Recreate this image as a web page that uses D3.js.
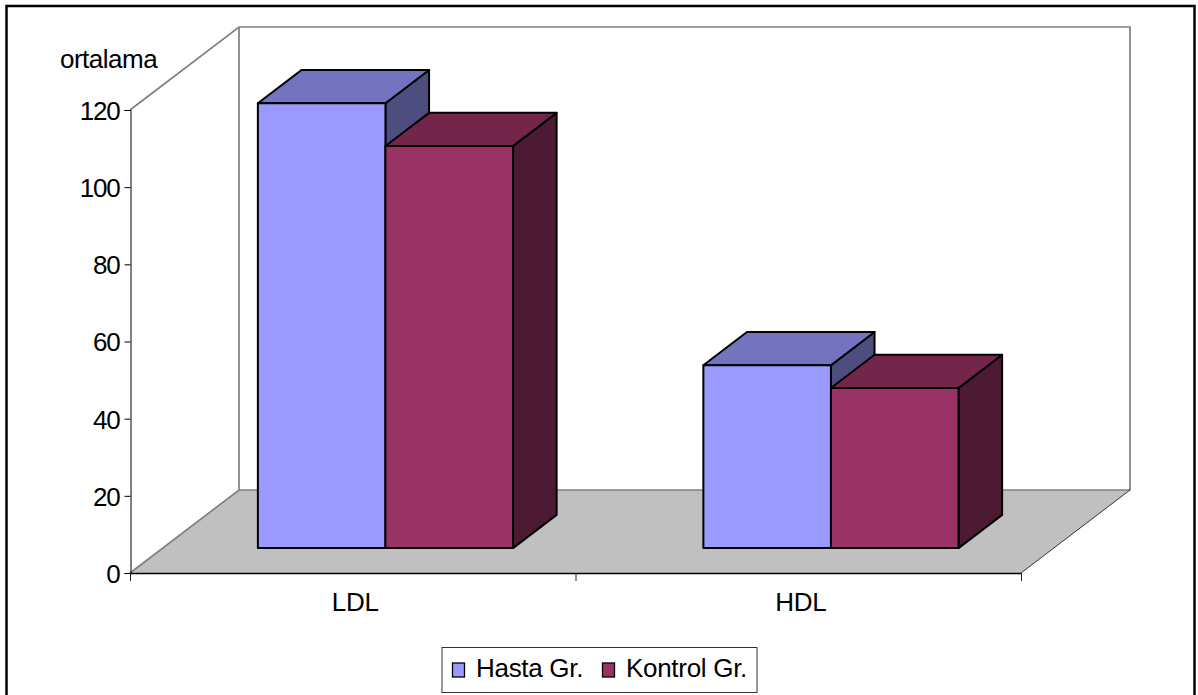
<!DOCTYPE html>
<html>
<head>
<meta charset="utf-8">
<script src="https://cdn.jsdelivr.net/npm/d3@7/dist/d3.min.js"></script>
<style>
  html, body { margin: 0; padding: 0; background: #fff; }
  svg { display: block; }
  text { font-family: "Liberation Sans", Arial, sans-serif; fill: #000; }
</style>
</head>
<body>
<svg id="chart" width="1198" height="695"></svg>
<script>
const categories = ["LDL", "HDL"];
const seriesNames = ["Hasta Gr.", "Kontrol Gr."];
const hastaValues = [115.3, 47.4];
const kontrolValues = [104.2, 41.5];
const yTicks = [0, 20, 40, 60, 80, 100, 120];
const faceFront = ["#9999ff", "#993366"];
const faceTop = ["#7373bf", "#732649"];
const faceSide = ["#4d4d80", "#4d1a33"];

const svg = d3.select("#chart");

// Front plane of the box and its oblique depth offset
const left = 130, right = 1021, base = 573, ceiling = 110;
const depthDx = 109, depthDy = -83;
const fontSize = 26;

const x = d3.scaleBand().domain(categories).range([left, right]);
const xInner = d3.scaleBand().domain(d3.range(seriesNames.length))
  .range([0, x.bandwidth()]).paddingOuter(0.746).paddingInner(0);
const y = d3.scaleLinear().domain([0, 120]).range([base, ceiling]);
const depth = d3.scaleLinear().domain([0, 1]).range([0, 1]);

// Projects a plot coordinate at a given depth (0 front, 1 back) onto the page
const project = (px, py, d) => [px + depthDx * depth(d), py + depthDy * depth(d)];
const poly = pts => "M" + pts.map(p => p.join(",")).join("L") + "Z";

// Outer chart frame, open along the bottom edge of the page
svg.append("path")
  .attr("d", "M6.5,700V6H1194.5V700")
  .attr("fill", "none").attr("stroke", "#000").attr("stroke-width", 2.5);

// Floor
svg.append("path")
  .attr("d", poly([project(left, base, 0), project(right, base, 0), project(right, base, 1), project(left, base, 1)]))
  .attr("fill", "#c0c0c0");

// Walls
const wall = svg.append("g").attr("fill", "none").attr("stroke", "#808080").attr("stroke-width", 1.7);
wall.append("path").attr("d", "M" + [
  project(left, ceiling, 0), project(left, ceiling, 1), project(right, ceiling, 1), project(right, base, 1),
  project(left, base, 1), project(left, base, 0)].join("L"));
wall.append("path").attr("d", "M" + [project(left, ceiling, 1), project(left, base, 1)].join("L"));
svg.append("path")
  .attr("d", "M" + [project(right, base, 1), project(right, base, 0)].join("L"))
  .attr("fill", "none").attr("stroke", "#333").attr("stroke-width", 1);

// Value axis
const yAxis = svg.append("g")
  .attr("transform", `translate(${left + 0.5},0)`)
  .call(d3.axisLeft(y).tickValues(yTicks).tickSize(6).tickPadding(5).tickFormat(d3.format("d")));
yAxis.select(".domain").attr("stroke", "#000").attr("stroke-width", 1);
yAxis.selectAll("text").attr("font-size", fontSize).attr("letter-spacing", "-1.2px").attr("font-family", null).attr("dy", "0.36em");

// Category axis with ticks on the band edges
const xAxis = svg.append("g")
  .attr("transform", `translate(0,${base + 0.5})`)
  .call(d3.axisBottom(x).tickSize(0).tickPadding(19));
xAxis.select(".domain").remove();
xAxis.selectAll("text").attr("font-size", fontSize).attr("letter-spacing", "-0.3px").attr("font-family", null).attr("dx", 2.5);
const edges = [left, ...categories.map(c => x(c) + x.bandwidth())];
svg.append("path").attr("d", `M${left},${base + 0.5}H${right}`).attr("stroke", "#000").attr("stroke-width", 1.5);
svg.selectAll(".edge").data(edges).join("line").attr("class", "edge")
  .attr("x1", d => d + 0.5).attr("x2", d => d + 0.5)
  .attr("y1", base).attr("y2", base + 8)
  .attr("stroke", "#222").attr("stroke-width", 1);

// Axis title
svg.append("text").attr("x", 60).attr("y", 68)
  .attr("font-size", fontSize).attr("letter-spacing", "-0.5px").text("ortalama");

// Bars as three visible faces of a box, back to front so neighbours overlap correctly
const barRows = categories.flatMap((c, i) => [hastaValues[i], kontrolValues[i]].map((v, s) => ({ c, s, v })));
const d0 = 0.30, d1 = 0.70;
const bars = svg.append("g").attr("stroke", "#000").attr("stroke-width", 2).attr("stroke-linejoin", "round");
barRows.forEach(({ c, s, v }) => {
  const xa = x(c) + xInner(s), xb = xa + xInner.bandwidth();
  const g = bars.append("g").attr("class", "bar");
  g.append("path").attr("fill", faceSide[s]).attr("d", poly([
    project(xb, y(0), d0), project(xb, y(0), d1), project(xb, y(v), d1), project(xb, y(v), d0)]));
  g.append("path").attr("fill", faceTop[s]).attr("d", poly([
    project(xa, y(v), d0), project(xb, y(v), d0), project(xb, y(v), d1), project(xa, y(v), d1)]));
  g.append("path").attr("fill", faceFront[s]).attr("d", poly([
    project(xa, y(0), d0), project(xb, y(0), d0), project(xb, y(v), d0), project(xa, y(v), d0)]));
});

// Legend
const legend = svg.append("g");
legend.append("rect").attr("x", 442).attr("y", 647.5).attr("width", 315).attr("height", 45)
  .attr("fill", "#fff").attr("stroke", "#333").attr("stroke-width", 1);
const legendX = d3.scaleOrdinal().domain(seriesNames).range([452.5, 602.5]);
seriesNames.forEach((name, s) => {
  legend.append("rect").attr("x", legendX(name)).attr("y", 663).attr("width", 12).attr("height", 14)
    .attr("fill", faceFront[s]).attr("stroke", "#000").attr("stroke-width", 1.3);
  legend.append("text").attr("x", legendX(name) + 23.5).attr("y", 677)
    .attr("font-size", fontSize).attr("letter-spacing", "-0.3px").text(name);
});
</script>
</body>
</html>
